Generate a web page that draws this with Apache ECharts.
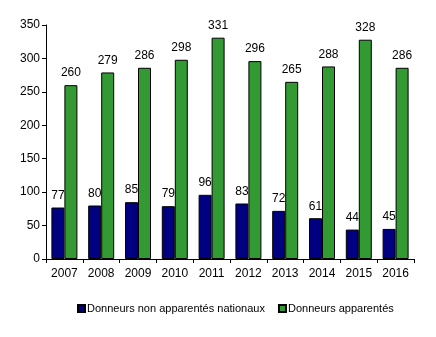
<!DOCTYPE html>
<html><head><meta charset="utf-8">
<script src="https://cdn.jsdelivr.net/npm/echarts@6/dist/echarts.min.js"></script>
<style>html,body{margin:0;padding:0;background:#fff}#c{width:436px;height:337px}</style>
</head><body><div id="c"></div>
<script>
const categories = ['2007','2008','2009','2010','2011','2012','2013','2014','2015','2016'];
const nonApparentes = [77,80,85,79,96,83,72,61,44,45];
const apparentes = [260,279,286,298,331,296,265,288,328,286];
const seriesNames = ['Donneurs non apparentés nationaux','Donneurs apparentés'];

const chart = echarts.init(document.getElementById('c'), null, {renderer:'canvas'});
const font = 'Liberation Sans, Arial, sans-serif';
chart.setOption({
  animation:false,
  backgroundColor:'#fff',
  grid:{left:46,right:22,top:25,bottom:78,containLabel:false},
  legend:{
    data:seriesNames, top:298, left:72, itemWidth:7, itemHeight:7, itemGap:13,
    icon:'rect',
    textStyle:{fontFamily:font,fontSize:11,color:'#000',padding:[0,0,0,-3]}
  },
  xAxis:{
    type:'category', data:categories,
    axisLine:{lineStyle:{color:'#000',width:1}},
    axisTick:{show:true,length:4,lineStyle:{color:'#000'}},
    axisLabel:{fontFamily:font,fontSize:12,color:'#000',margin:9}
  },
  yAxis:{
    type:'value', min:0, max:350, interval:50,
    axisLine:{show:true,lineStyle:{color:'#000',width:1}},
    axisTick:{show:true,length:4,lineStyle:{color:'#000'}},
    splitLine:{show:false},
    axisLabel:{fontFamily:font,fontSize:12,color:'#000',margin:6}
  },
  series:[
    {name:seriesNames[0],type:'bar',data:nonApparentes,barWidth:13,barGap:'0%',
     itemStyle:{color:'#000080',borderColor:'#000',borderWidth:1},
     label:{show:true,position:'top',distance:6,fontFamily:font,fontSize:12,color:'#000'}},
    {name:seriesNames[1],type:'bar',data:apparentes,barWidth:13,
     itemStyle:{color:'#339933',borderColor:'#000',borderWidth:1},
     label:{show:true,position:'top',distance:6,fontFamily:font,fontSize:12,color:'#000'}}
  ]
});
</script></body></html>
